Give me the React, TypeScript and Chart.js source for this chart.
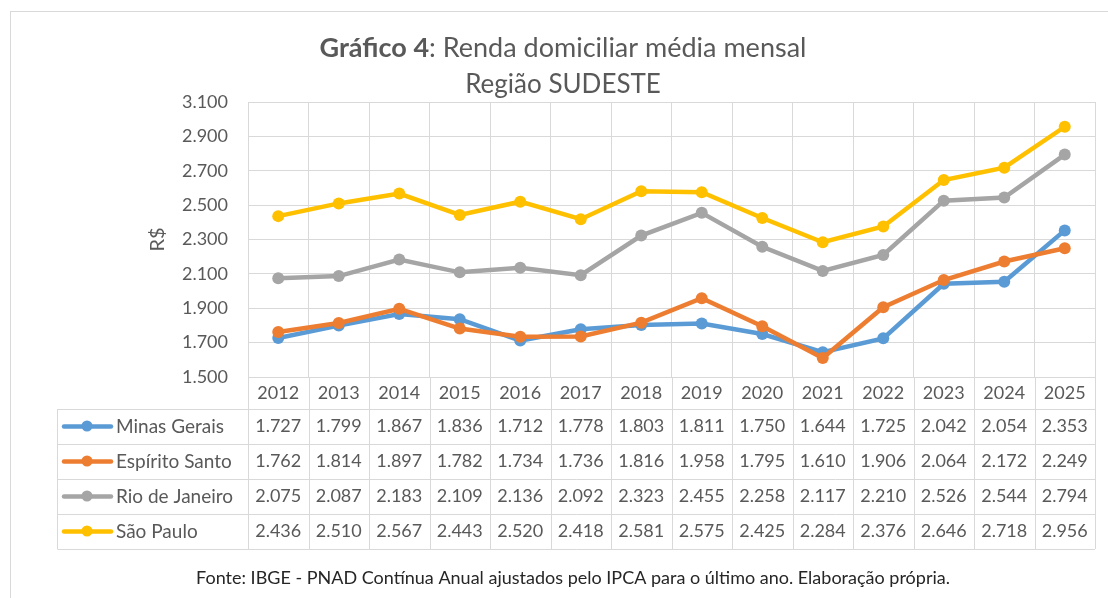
import React, { useEffect, useRef } from "react";
import { Chart, registerables } from "chart.js";

Chart.register(...registerables);

const years = ["2012","2013","2014","2015","2016","2017","2018","2019","2020","2021","2022","2023","2024","2025"];
const minasGerais = [1727,1799,1867,1836,1712,1778,1803,1811,1750,1644,1725,2042,2054,2353];
const espiritoSanto = [1762,1814,1897,1782,1734,1736,1816,1958,1795,1610,1906,2064,2172,2249];
const rioDeJaneiro = [2075,2087,2183,2109,2136,2092,2323,2455,2258,2117,2210,2526,2544,2794];
const saoPaulo = [2436,2510,2567,2443,2520,2418,2581,2575,2425,2284,2376,2646,2718,2956];
const seriesNames = ["Minas Gerais","Espírito Santo","Rio de Janeiro","São Paulo"];
const seriesColors = ["#5B9BD5","#ED7D31","#A5A5A5","#FFC000"];
const yMin = 1500;
const yMax = 3100;
const yStep = 200;
const titleBold = "Gráfico 4";
const titleRest = ": Renda domiciliar média mensal";
const subtitle = "Região SUDESTE";
const yTitle = "R$";
const footnote = "Fonte: IBGE - PNAD Contínua Anual ajustados pelo IPCA para o último ano. Elaboração própria.";

const FONT = "Lato, 'Open Sans', sans-serif";
const TEXT = "#595959";
const GRID = "#D9D9D9";

const fmt = (v: number) => {
  const s = String(Math.round(v));
  return s.replace(/\B(?=(\d{3})+(?!\d))/g, ".");
};

const allSeries = [minasGerais, espiritoSanto, rioDeJaneiro, saoPaulo];

const HEADER_H = 32;
const ROW_H = 35;
const TABLE_LEFT = 57;

const decorPlugin = {
  id: "decor",
  beforeDraw(chart: any) {
    const ctx = chart.ctx;
    ctx.save();
    ctx.fillStyle = "#ffffff";
    ctx.fillRect(0, 0, chart.width, chart.height);
    ctx.strokeStyle = GRID;
    ctx.lineWidth = 1;
    ctx.strokeRect(10.5, 11.5, chart.width + 20, chart.height + 20);
    ctx.restore();
  },
  afterDraw(chart: any) {
    const ctx = chart.ctx;
    const area = chart.chartArea;
    const xs = chart.scales.x;
    ctx.save();
    // Title
    ctx.fillStyle = TEXT;
    ctx.textBaseline = "middle";
    ctx.font = `bold 27px ${FONT}`;
    const wb = ctx.measureText(titleBold).width;
    ctx.font = `27px ${FONT}`;
    const wr = ctx.measureText(titleRest).width;
    const cx = 563;
    let x0 = cx - (wb + wr) / 2;
    ctx.textAlign = "left";
    ctx.font = `bold 27px ${FONT}`;
    ctx.fillText(titleBold, x0, 48);
    ctx.font = `27px ${FONT}`;
    ctx.fillText(titleRest, x0 + wb, 48);
    ctx.font = `26px ${FONT}`;
    ctx.textAlign = "center";
    ctx.fillText(subtitle, cx, 85);

    // Table
    const n = years.length;
    const cellW = (area.right - area.left) / n;
    const tTop = area.bottom + HEADER_H;
    const tBottom = tTop + ROW_H * allSeries.length;
    ctx.strokeStyle = GRID;
    ctx.lineWidth = 1;
    ctx.beginPath();
    for (let i = 0; i <= n; i++) {
      const bx = Math.round(xs.getPixelForValue(i) - cellW / 2) + 0.5;
      ctx.moveTo(bx, area.bottom);
      ctx.lineTo(bx, tBottom);
    }
    for (let r = 0; r <= allSeries.length; r++) {
      const y = Math.round(tTop + r * ROW_H) + 0.5;
      ctx.moveTo(TABLE_LEFT + 0.5, y);
      ctx.lineTo(area.right, y);
    }
    ctx.moveTo(TABLE_LEFT + 0.5, tTop);
    ctx.lineTo(TABLE_LEFT + 0.5, tBottom);
    ctx.stroke();

    for (let r = 0; r < allSeries.length; r++) {
      const cy = tTop + r * ROW_H + ROW_H / 2;
      // legend key
      ctx.strokeStyle = seriesColors[r];
      ctx.lineWidth = 4.5;
      ctx.lineCap = "round";
      ctx.beginPath();
      ctx.moveTo(64, cy);
      ctx.lineTo(111, cy);
      ctx.stroke();
      ctx.fillStyle = seriesColors[r];
      ctx.beginPath();
      ctx.arc(87, cy - 0.5, 5.5, 0, Math.PI * 2);
      ctx.fill();
      ctx.fillStyle = TEXT;
      ctx.font = `19px ${FONT}`;
      ctx.textAlign = "left";
      ctx.textBaseline = "middle";
      ctx.fillText(seriesNames[r], 116, cy);
      ctx.font = `18px ${FONT}`;
      ctx.textAlign = "center";
      allSeries[r].forEach((v, i) => {
        ctx.fillText(fmt(v), xs.getPixelForValue(i), cy);
      });
    }

    // Footnote
    ctx.fillStyle = "#262626";
    ctx.font = `18px ${FONT}`;
    ctx.textAlign = "center";
    ctx.fillText(footnote, 573, 578);
    ctx.restore();
  },
};

export default function App() {
  const ref = useRef<HTMLCanvasElement | null>(null);
  useEffect(() => {
    document.body.style.margin = "0";
    const canvas = ref.current!;
    const chart = new Chart(canvas, {
      type: "line",
      data: {
        labels: years,
        datasets: allSeries.map((d, i) => ({
          label: seriesNames[i],
          data: d,
          borderColor: seriesColors[i],
          backgroundColor: seriesColors[i],
          pointBackgroundColor: seriesColors[i],
          pointBorderColor: seriesColors[i],
          borderWidth: 4.5,
          pointRadius: 6,
          pointBorderWidth: 0,
          tension: 0,
          order: allSeries.length - i,
        })),
      },
      options: {
        responsive: false,
        animation: false,
        devicePixelRatio: 1,
        layout: { padding: { left: 0, right: 13, top: 102, bottom: 189 } },
        plugins: {
          legend: { display: false },
          title: { display: false },
          tooltip: { enabled: false },
        },
        scales: {
          x: {
            type: "category",
            offset: true,
            grid: { color: GRID, offset: true, drawTicks: false },
            border: { color: GRID },
            ticks: { color: TEXT, font: { family: FONT, size: 18 }, padding: 5, maxRotation: 0, autoSkip: false },
            afterFit: (s: any) => { s.height = HEADER_H; },
          },
          y: {
            min: yMin,
            max: yMax,
            grid: { color: GRID, drawTicks: false },
            border: { display: false },
            ticks: {
              stepSize: yStep,
              color: TEXT,
              font: { family: FONT, size: 18 },
              padding: 20,
              callback: (v: any) => fmt(Number(v)),
            },
            title: {
              display: true,
              text: yTitle,
              color: TEXT,
              font: { family: FONT, size: 20 },
              padding: { top: 146, bottom: 0 },
            },
            afterFit: (s: any) => { s.width = 248; },
          },
        },
      },
      plugins: [decorPlugin],
    });
    return () => chart.destroy();
  }, []);
  return (
    <div style={{ width: 1108, height: 598 }}>
      <canvas ref={ref} width={1108} height={598} style={{ display: "block", width: 1108, height: 598 }} />
    </div>
  );
}
